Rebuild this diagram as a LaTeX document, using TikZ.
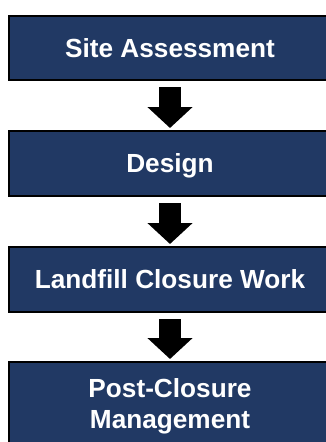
\documentclass[tikz,border=0pt]{standalone}
\usepackage{fontspec}
\setmainfont{Liberation Sans}
\usetikzlibrary{arrows.meta}
\definecolor{navy}{HTML}{213964}
\newcommand{\boxtxtshift}{\hspace*{-18pt}}
\tikzset{
  stepbox/.style={draw=black, line width=2pt, fill=navy, text=white,
    minimum width=340pt, inner sep=0pt,
    font=\fontsize{26.2}{31.4}\selectfont\bfseries, align=center},
  onel/.style={text height=18.8pt, text depth=0pt},
  blockarrow/.style={draw=black, line width=22pt,
    -{Triangle[width=44pt, length=21pt]}, shorten <=6pt, shorten >=2pt}
}
\begin{document}
\begin{tikzpicture}[x=1pt, y=-1pt]
\useasboundingbox (0,0) rectangle (326,442);
\node[stepbox, onel, minimum height=64pt] (s1) at (179,48) {\boxtxtshift Site Assessment};
\node[stepbox, onel, minimum height=65pt] (s2) at (179,163.5) {\boxtxtshift Design};
\node[stepbox, onel, minimum height=65pt] (s3) at (179,279.5) {\boxtxtshift Landfill Closure Work};
\node[stepbox, text depth=0pt, minimum height=83pt] (s4) at (179,403.5) {\boxtxtshift Post-Closure\\\boxtxtshift Management};
\draw[blockarrow] ([xshift=-9pt]s1.south) -- ([xshift=-9pt]s2.north);
\draw[blockarrow] ([xshift=-9pt]s2.south) -- ([xshift=-9pt]s3.north);
\draw[blockarrow] ([xshift=-9pt]s3.south) -- ([xshift=-9pt]s4.north);
\end{tikzpicture}
\end{document}
